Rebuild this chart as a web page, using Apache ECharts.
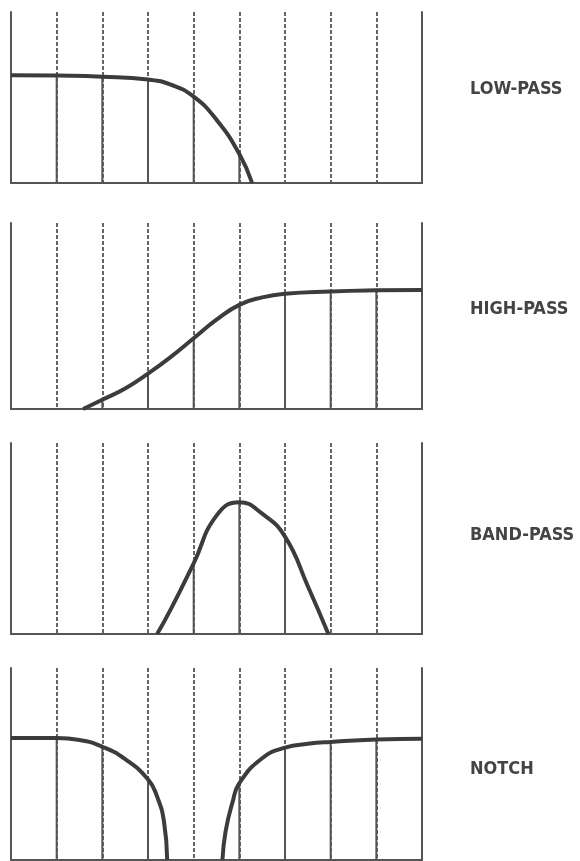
<!DOCTYPE html>
<html>
<head>
<meta charset="utf-8">
<script src="https://cdn.jsdelivr.net/npm/echarts@6/dist/echarts.min.js"></script>
<style>
  html, body { margin: 0; padding: 0; background: #fff; }
  #main { width: 580px; height: 861px; }
</style>
</head>
<body>
<div id="main"></div>
<script>
// filter names, top to bottom
var names = ['LOW-PASS', 'HIGH-PASS', 'BAND-PASS', 'NOTCH'];
// x = grid division (0..9), y = fraction of panel height
var lowPass = [[0, 0.63], [1, 0.628], [2, 0.622], [3, 0.605], [3.5, 0.575], [4, 0.505], [4.5, 0.37], [5, 0.17], [5.28, 0]];
var highPass = [[1.58, 0], [2, 0.05], [2.5, 0.11], [3, 0.19], [3.5, 0.28], [4, 0.38], [4.5, 0.48], [5, 0.56], [5.5, 0.6], [6, 0.62], [7, 0.632], [8, 0.638], [9, 0.64]];
var bandPass = [[3.2, 0], [3.5, 0.13], [4, 0.37], [4.5, 0.62], [5, 0.69], [5.5, 0.63], [6, 0.51], [6.5, 0.25], [6.95, 0]];
var notchLeft = [[0, 0.635], [1, 0.635], [1.5, 0.625], [2, 0.59], [2.5, 0.525], [3, 0.42], [3.2, 0.33], [3.35, 0.2], [3.42, 0]];
var notchRight = [[4.63, 0], [4.7, 0.15], [4.85, 0.3], [5, 0.4], [5.5, 0.53], [6, 0.585], [6.5, 0.605], [7, 0.615], [8, 0.628], [9, 0.632]];

var curves = [[lowPass], [highPass], [bandPass], [notchLeft, notchRight]];
var grids = [
  {left: 11, right: 158, top: 12, height: 171},
  {left: 11, right: 158, top: 223, height: 186},
  {left: 11, right: 158, top: 443, height: 191},
  {left: 11, right: 158, top: 668, height: 192}
];
var labelTops = [80, 300, 526, 760];

var myChart = echarts.init(document.getElementById('main'));

var xAxis = [], yAxis = [], series = [], title = [];
grids.forEach(function (g, i) {
  xAxis.push({
    type: 'value', gridIndex: i, min: 0, max: 9, interval: 1,
    axisLine: {show: true, onZero: false, lineStyle: {color: '#555', width: 2}},
    axisTick: {show: false},
    axisLabel: {show: false},
    splitLine: {show: true, lineStyle: {color: '#666', width: 2, type: [4, 2]}}
  });
  // left and right borders
  ['left', 'right'].forEach(function (pos) {
    yAxis.push({
      type: 'value', gridIndex: i, min: 0, max: 1, position: pos,
      axisLine: {show: true, lineStyle: {color: '#555', width: 2}},
      axisTick: {show: false},
      axisLabel: {show: false},
      splitLine: {show: false}
    });
  });
  // solid part of each grid line, under the curve
  var under = [];
  curves[i].forEach(function (c) {
    c.forEach(function (p) {
      if (p[0] % 1 === 0 && p[0] > 0 && p[0] < 9 && p[1] > 0) under.push(p);
    });
  });
  series.push({
    type: 'bar', xAxisIndex: i, yAxisIndex: i * 2, barWidth: 2,
    itemStyle: {color: '#555'}, silent: true, data: under
  });
  curves[i].forEach(function (c) {
    series.push({
      type: 'line', xAxisIndex: i, yAxisIndex: i * 2,
      smooth: true, showSymbol: false, silent: true,
      lineStyle: {color: '#3c3c3c', width: 4},
      data: c
    });
  });
  title.push({
    text: names[i], left: 470, top: labelTops[i], padding: 0,
    textStyle: {fontFamily: '"DejaVu Sans Condensed", "Liberation Sans Narrow", sans-serif', fontWeight: 'bold', fontSize: 18, color: '#444'}
  });
});

var option = {
  animation: false,
  title: title,
  grid: grids,
  xAxis: xAxis,
  yAxis: yAxis,
  series: series
};
myChart.setOption(option);
window.onresize = function () {
  myChart.resize();
};
</script>
</body>
</html>
